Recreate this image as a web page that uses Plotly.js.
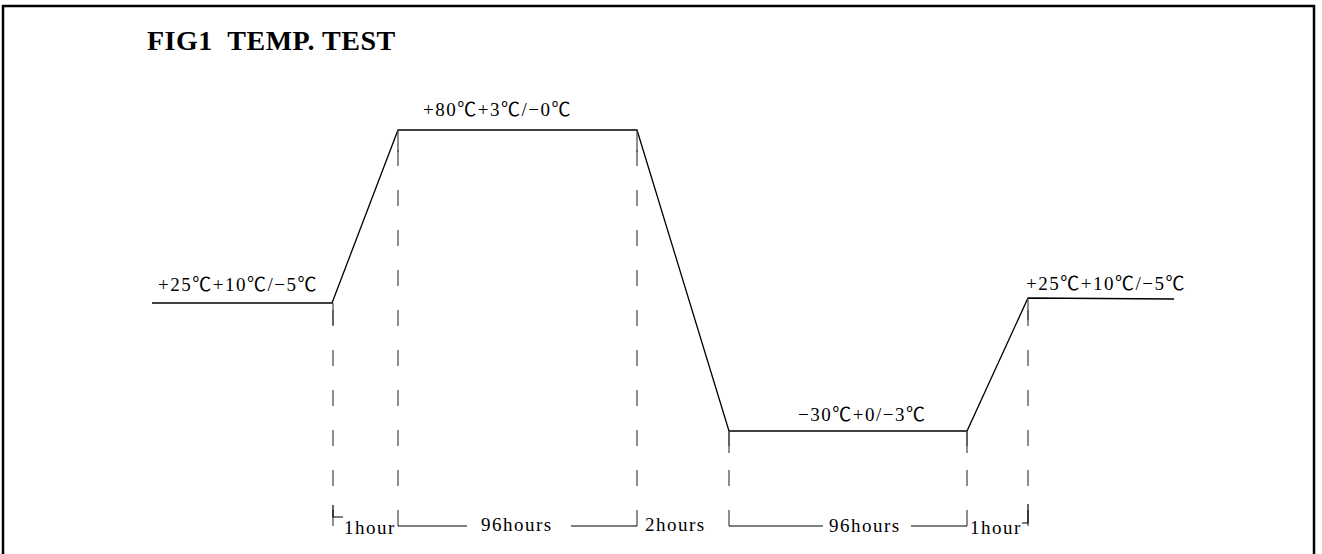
<!DOCTYPE html>
<html>
<head>
<meta charset="utf-8">
<script src="https://cdn.plot.ly/plotly-3.0.1.min.js"></script>
<style>
  html, body { margin: 0; padding: 0; background: #fff; }
  #chart { width: 1322px; height: 554px; }
  .annotation-text { letter-spacing: 1.5px; }
  .gtitle { letter-spacing: 0.5px; }
</style>
</head>
<body>
<div id="chart"></div>
<script>
// Schematic temperature profile (drawing units on a 1322 x 554 canvas, y downward)
const profileX = [152, 332, 398, 637, 729, 967, 1028, 1174];
const profileY = [303, 303, 130, 130, 431, 431, 298, 299];

// Phase boundaries (dashed drop lines) and their tops on the profile
const boundaryX   = [333, 398, 637, 729, 967, 1028];
const boundaryTop = [303, 130, 130, 431, 431, 298];
const baseY = 526;

// Level labels
const levelText = ['+25℃+10℃/−5℃', '+80℃+3℃/−0℃', '−30℃+0/−3℃', '+25℃+10℃/−5℃'];
const levelX    = [238, 497, 862, 1106];
const levelY    = [282, 107, 412, 281];

// Duration labels
const durText = ['1hour', '96hours', '2hours', '96hours', '1hour'];
const durX    = [370, 517, 675, 865, 996];
const durY    = [527, 524, 524, 525, 527];
const durLinesGap = [0, 50, 0, 42, 0];   // half-gap around label for segments that have lead lines

const titleText = 'FIG1  TEMP. TEST';

const serif = 'Liberation Serif, Times New Roman, serif';
const cjk = 'Noto Sans CJK SC';

function fmt(t) {
  return t.replace(/℃/g, '<span style="font-family:' + cjk + '">℃</span>');
}

const traces = [];
// main profile
traces.push({x: profileX, y: profileY, mode: 'lines', type: 'scatter',
  line: {color: '#000', width: 1.3}, hoverinfo: 'skip', showlegend: false});

// dashed drop lines drawn bottom-up, plus a solid stub at the top
boundaryX.forEach((bx, i) => {
  traces.push({x: [bx, bx], y: [baseY, boundaryTop[i]], mode: 'lines', type: 'scatter',
    line: {color: '#444', width: 1.2, dash: '16px,24px'}, hoverinfo: 'skip', showlegend: false});
  traces.push({x: [bx, bx], y: [boundaryTop[i], boundaryTop[i] + 22], mode: 'lines', type: 'scatter',
    line: {color: '#444', width: 1.2}, hoverinfo: 'skip', showlegend: false});
});

// lead lines for long segments
durText.forEach((t, i) => {
  const g = durLinesGap[i];
  if (g > 0) {
    const a = boundaryX[i], b = boundaryX[i + 1];
    const c = durX[i];
    traces.push({x: [a, c - g, null, c + g + 4, b], y: [baseY, baseY, null, baseY, baseY],
      mode: 'lines', type: 'scatter', line: {color: '#000', width: 1.2},
      hoverinfo: 'skip', showlegend: false});
  }
});
// small corner ticks at the two ends
traces.push({x: [boundaryX[0], boundaryX[0], boundaryX[0] + 10], y: [505, baseY - 9, baseY - 9],
  mode: 'lines', type: 'scatter', line: {color: '#000', width: 1.2}, hoverinfo: 'skip', showlegend: false});
traces.push({x: [boundaryX[5] - 6, boundaryX[5], boundaryX[5]], y: [baseY - 3, baseY - 3, 504],
  mode: 'lines', type: 'scatter', line: {color: '#000', width: 1.2}, hoverinfo: 'skip', showlegend: false});

const annotations = [];
levelText.forEach((t, i) => annotations.push({x: levelX[i], y: levelY[i], text: fmt(t), showarrow: false,
  xanchor: 'center', yanchor: 'middle', font: {family: serif, size: 19, color: '#000'}}));
durText.forEach((t, i) => annotations.push({x: durX[i], y: durY[i], text: t, showarrow: false,
  xanchor: 'center', yanchor: 'middle', font: {family: serif, size: 19, color: '#000'}}));

const layout = {
  width: 1322, height: 554,
  margin: {l: 0, r: 0, t: 0, b: 0},
  paper_bgcolor: '#fff', plot_bgcolor: '#fff',
  xaxis: {range: [0, 1322], visible: false, fixedrange: true},
  yaxis: {range: [554, 0], visible: false, fixedrange: true},
  title: {text: '<b>' + titleText + '</b>', x: 147 / 1322, xanchor: 'left', xref: 'container',
    y: 1 - 40 / 554, yanchor: 'middle', yref: 'container',
    font: {family: serif, size: 28, color: '#000'}},
  annotations: annotations,
  shapes: [{type: 'rect', xref: 'x', yref: 'y', x0: 3, x1: 1314, y0: 6, y1: 600,
    line: {color: '#000', width: 2.5}}],
  showlegend: false
};

Plotly.newPlot('chart', traces, layout, {displayModeBar: false, staticPlot: true});
</script>
</body>
</html>
